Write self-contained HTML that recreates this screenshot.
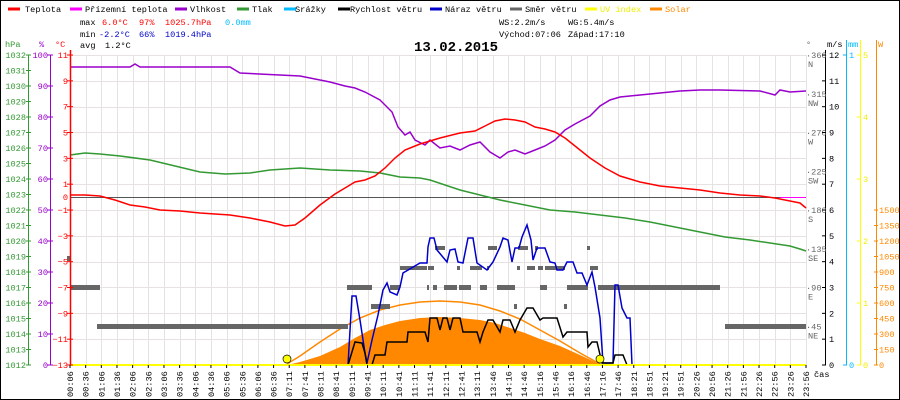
<!DOCTYPE html>
<html><head><meta charset="utf-8"><style>
html,body{margin:0;padding:0;background:#fff}
svg{display:block}
text{font-family:"Liberation Mono",monospace;font-size:8.6px}
</style></head><body>
<svg width="900" height="400" viewBox="0 0 900 400" xmlns="http://www.w3.org/2000/svg">
<rect x="0.5" y="0.5" width="899" height="399" fill="#fff" stroke="#000"/>
<!-- legend -->
<g stroke-width="3">
<line x1="8" y1="9" x2="20" y2="9" stroke="#f00"/>
<line x1="70" y1="9" x2="82" y2="9" stroke="#f0f"/>
<line x1="175" y1="9" x2="187" y2="9" stroke="#90c"/>
<line x1="237" y1="9" x2="249" y2="9" stroke="#393"/>
<line x1="284" y1="9" x2="296" y2="9" stroke="#0bf"/>
<line x1="338" y1="9" x2="350" y2="9" stroke="#000"/>
<line x1="430" y1="9" x2="442" y2="9" stroke="#00c"/>
<line x1="510" y1="9" x2="522" y2="9" stroke="#666"/>
<line x1="585" y1="9" x2="597" y2="9" stroke="#ff0"/>
<line x1="650" y1="9" x2="662" y2="9" stroke="#f80"/>
</g>
<g>
<text x="25" y="12">Teplota</text>
<text x="85" y="12">Přízemní teplota</text>
<text x="190" y="12">Vlhkost</text>
<text x="252" y="12">Tlak</text>
<text x="295" y="12">Srážky</text>
<text x="350" y="12">Rychlost větru</text>
<text x="445" y="12">Náraz větru</text>
<text x="525" y="12">Směr větru</text>
<text x="600" y="12" fill="#ee0">UV index</text>
<text x="665" y="12" fill="#f80">Solar</text>
<text x="80" y="25">max</text><text x="102" y="25" fill="#f00">6.0°C</text><text x="139" y="25" fill="#f00">97%</text><text x="165" y="25" fill="#f00">1025.7hPa</text><text x="225" y="25" fill="#0bf">0.0mm</text>
<text x="80" y="37">min</text><text x="99" y="37" fill="#00c">-2.2°C</text><text x="139" y="37" fill="#00c">66%</text><text x="165" y="37" fill="#00c">1019.4hPa</text>
<text x="80" y="48">avg</text><text x="105" y="48">1.2°C</text>
<text x="499" y="25">WS:2.2m/s</text><text x="568" y="25">WG:5.4m/s</text>
<text x="499" y="37">Východ:07:06</text><text x="568" y="37">Západ:17:10</text>
</g>
<text x="414" y="51" style="font-size:14px;font-weight:bold">13.02.2015</text>
<g stroke="#e6e2e2">
<line x1="70" y1="55.5" x2="806" y2="55.5"/><line x1="70" y1="81.5" x2="806" y2="81.5"/><line x1="70" y1="107.5" x2="806" y2="107.5"/><line x1="70" y1="132.5" x2="806" y2="132.5"/><line x1="70" y1="158.5" x2="806" y2="158.5"/><line x1="70" y1="184.5" x2="806" y2="184.5"/><line x1="70" y1="210.5" x2="806" y2="210.5"/><line x1="70" y1="236.5" x2="806" y2="236.5"/><line x1="70" y1="262.5" x2="806" y2="262.5"/><line x1="70" y1="287.5" x2="806" y2="287.5"/><line x1="70" y1="313.5" x2="806" y2="313.5"/><line x1="70" y1="339.5" x2="806" y2="339.5"/>
</g>
<g id="vgrid" stroke="#e6e2e2"></g>
<line x1="70" y1="197.5" x2="806" y2="197.5" stroke="#555"/>
<polygon fill="#f80" points="287,365 300,362 320,356 340,347 355,338 370,330 385,325 400,321 420,318 440,317 460,318 480,320 495,323 510,328 525,333 540,339 560,346 580,355 595,362 605,365"/>
<polyline fill="none" stroke="#f80" stroke-width="1.5" points="287,364 300,356 320,342 340,329 360,318 380,310 400,305 420,302 440,301 460,302 480,305 500,311 520,319 540,330 560,341 580,353 600,364"/>
<g fill="#666">
<rect x="70" y="285" width="30" height="5"/><rect x="67" y="256" width="4" height="5"/>
<rect x="97" y="324" width="251" height="5"/><rect x="725" y="324" width="81" height="5"/>
<rect x="347" y="285" width="25" height="5"/><rect x="390" y="285" width="10" height="5"/><rect x="427" y="285" width="2" height="5"/><rect x="433" y="285" width="4" height="5"/><rect x="444" y="285" width="13" height="5"/><rect x="459" y="285" width="12" height="5"/><rect x="480" y="285" width="7" height="5"/><rect x="497" y="285" width="18" height="5"/><rect x="540" y="285" width="7" height="5"/><rect x="567" y="285" width="21" height="5"/><rect x="598" y="285" width="122" height="5"/>
<rect x="371" y="304" width="19" height="5"/><rect x="514" y="304" width="3" height="5"/><rect x="564" y="304" width="3" height="5"/>
<rect x="400" y="266" width="27" height="4"/><rect x="428" y="266" width="6" height="4"/><rect x="457" y="266" width="3" height="4"/><rect x="470" y="266" width="12" height="4"/><rect x="487" y="266" width="2" height="4"/><rect x="517" y="266" width="3" height="4"/><rect x="527" y="266" width="8" height="4"/><rect x="538" y="266" width="5" height="4"/><rect x="545" y="266" width="20" height="4"/><rect x="590" y="266" width="8" height="4"/>
<rect x="435" y="246" width="10" height="4"/><rect x="488" y="246" width="9" height="4"/><rect x="518" y="246" width="10" height="4"/><rect x="535" y="246" width="3" height="4"/><rect x="587" y="246" width="3" height="4"/>
</g>
<polyline fill="none" stroke="#00c" stroke-width="1.5" points="348,365 352,296 356,296 360,320 365,353 367,363 372,340 378,315 383,290 387,283 390,292 397,295 400,287 403,273 420,263 427,263 428,247 430,238 434,238 437,250 447,262 450,250 455,249 458,262 463,263 468,238 473,238 477,263 487,270 493,262 500,247 503,238 508,240 512,262 515,248 519,248 522,237 527,225 531,240 533,260 537,248 545,248 550,262 555,263 557,270 563,270 567,262 573,262 577,273 582,273 587,285 592,272 595,287 600,318 603,363 613,363 615,285 618,285 622,308 627,318 630,318 632,365"/>
<polyline fill="none" stroke="#000" stroke-width="1.5" points="348,365 355,342 362,343 365,353 367,365 372,365 375,355 385,355 387,342 407,342 408,332 425,332 428,342 430,318 437,318 440,330 443,318 447,318 450,330 453,318 460,318 463,332 477,332 480,342 483,332 488,320 493,320 500,332 503,320 510,320 515,332 520,320 527,308 533,308 540,320 543,318 557,318 563,337 567,332 587,332 588,347 592,342 597,342 602,363 613,363 615,355 623,355 627,365"/>
<polyline fill="none" stroke="#393" stroke-width="1.5" points="70,155 85,153 100,154 120,156 150,160 175,166 200,172 225,174 250,173 270,170 300,168 330,170 360,171 380,173 400,177 420,178 430,180 445,185 460,190 480,195 500,200 525,205 550,210 575,212 600,215 625,218 650,222 675,227 700,232 725,237 750,240 770,243 790,246 800,249 806,251"/>
<polyline fill="none" stroke="#90c" stroke-width="1.5" points="70,67 130,67 135,64 140,67 230,67 240,73 300,76 330,82 345,86 355,88 365,92 380,100 392,112 398,127 405,135 410,132 415,140 425,145 430,140 440,148 450,146 460,150 470,145 480,142 490,152 500,158 508,152 515,150 525,154 535,150 545,146 555,140 565,130 575,124 590,116 600,106 610,100 620,97 640,95 660,93 680,91 700,90 720,90 760,91 775,95 780,90 790,92 806,91"/>
<polyline fill="none" stroke="#f00" stroke-width="1.5" points="70,195 85,195 100,196 115,200 130,205 145,207 160,210 180,211 200,213 230,215 250,218 270,222 285,226 295,225 305,218 320,205 335,194 345,188 355,182 365,180 375,176 385,168 395,158 405,150 420,144 440,138 460,133 475,131 485,126 495,121 505,119 515,120 525,122 535,127 545,129 555,132 565,138 575,146 590,158 605,168 620,176 640,182 660,186 680,188 700,190 720,193 740,195 760,196 775,198 790,201 800,203 806,208"/>
<line x1="780" y1="197.5" x2="806" y2="197.5" stroke="#f0f"/>
<line x1="70" y1="365" x2="806" y2="365" stroke="#ff0" stroke-width="2"/>
<circle cx="287" cy="359" r="4" fill="#ff0" stroke="#000" stroke-width="0.7"/>
<circle cx="600" cy="359" r="4" fill="#ff0" stroke="#000" stroke-width="0.7"/>
<line x1="28.5" y1="55" x2="28.5" y2="365" stroke="#393"/>
<line x1="50.5" y1="55" x2="50.5" y2="365" stroke="#90c"/>
<line x1="70.5" y1="50" x2="70.5" y2="365" stroke="#f00" stroke-width="1.5"/>
<g id="leftlabels"></g>
<text x="5" y="47" fill="#393">hPa</text><text x="39" y="47" fill="#90c">%</text><text x="55" y="47" fill="#f00">°C</text>
<line x1="825.5" y1="50" x2="825.5" y2="365" stroke="#000"/>
<line x1="846.5" y1="40" x2="846.5" y2="365" stroke="#0bf"/>
<line x1="860.5" y1="40" x2="860.5" y2="365" stroke="#ff0"/>
<line x1="876.5" y1="40" x2="876.5" y2="365" stroke="#f80"/>
<text x="806" y="47" fill="#666">°</text><text x="827" y="47">m/s</text><text x="848" y="47" fill="#0bf">mm</text><text x="878" y="47" fill="#f80">W</text>
<text x="814" y="377">čas</text>
<g id="rightlabels"></g>
<g id="xlabels"></g>
<script>
var NS="http://www.w3.org/2000/svg";
function T(g,x,y,s,c,a,tr){var t=document.createElementNS(NS,"text");t.setAttribute("x",x);t.setAttribute("y",y);t.textContent=s;if(c)t.setAttribute("fill",c);if(a)t.setAttribute("text-anchor",a);if(tr)t.setAttribute("transform",tr);document.getElementById(g).appendChild(t);}
function L(g,x1,y1,x2,y2,c){var l=document.createElementNS(NS,"line");l.setAttribute("x1",x1);l.setAttribute("y1",y1);l.setAttribute("x2",x2);l.setAttribute("y2",y2);l.setAttribute("stroke",c);document.getElementById(g).appendChild(l);}
var labs=["00:06","00:36","01:06","01:36","02:06","02:36","03:06","03:36","04:06","04:36","05:06","05:36","06:06","06:36","07:11","07:41","08:11","08:41","09:11","09:41","10:11","10:41","11:11","11:41","12:11","12:41","13:11","13:46","14:16","14:46","15:16","15:46","16:16","16:46","17:16","17:46","18:21","18:51","19:21","19:51","20:26","20:56","21:26","21:56","22:26","22:56","23:26","23:56"];
for(var i=0;i<48;i++){var x=70+i*15.66;if(i>0)L("vgrid",Math.round(x)+.5,55,Math.round(x)+.5,365,"#e6e2e2");L("xlabels",x,365,x,368,"#000");T("xlabels",x+3,397,labs[i],"#000",null,"rotate(-90 "+(x+3)+" 397)");}
for(var i=0;i<=20;i++){var y=55+i*15.5;T("leftlabels",26,y+3,String(1032-i),"#393","end");L("leftlabels",26,y,31,y,"#393");}
for(var i=0;i<=10;i++){var y=55+i*31;T("leftlabels",48,y+3,String(100-i*10),"#90c","end");L("leftlabels",47,y,53,y,"#90c");}
for(var v=11;v>=-13;v-=2){var y=55+(11-v)*12.917;T("leftlabels",68,y+3,String(v).replace("-","−"),"#f00","end");L("leftlabels",67,y,73,y,"#f00");}
T("leftlabels",68,200,"0","#f00","end");
var dn={360:"N",315:"NW",270:"W",225:"SW",180:"S",135:"SE",90:"E",45:"NE"};
for(var d=360;d>=45;d-=45){var y=365-d*310/360;T("rightlabels",806,y+3,"·"+d,"#666");T("rightlabels",808,y+12,dn[d],"#666");}
for(var i=0;i<=12;i++){var y=365-i*25.83;T("rightlabels",829,y+3,String(i),"#000");L("rightlabels",822,y,826,y,"#000");}
T("rightlabels",849,58,"1","#0bf");T("rightlabels",849,368,"0","#0bf");L("rightlabels",843,55,847,55,"#0bf");L("rightlabels",843,365,847,365,"#0bf");
for(var i=0;i<=5;i++){var y=365-i*62;T("rightlabels",863,y+3,String(i),"#ee0");L("rightlabels",857,y,861,y,"#ff0");}
for(var i=0;i<=10;i++){var y=365-i*15.5;T("rightlabels",879,y+3,String(i*150),"#f80");L("rightlabels",874,y,878,y,"#f80");}
</script>
</svg>
</body></html>
